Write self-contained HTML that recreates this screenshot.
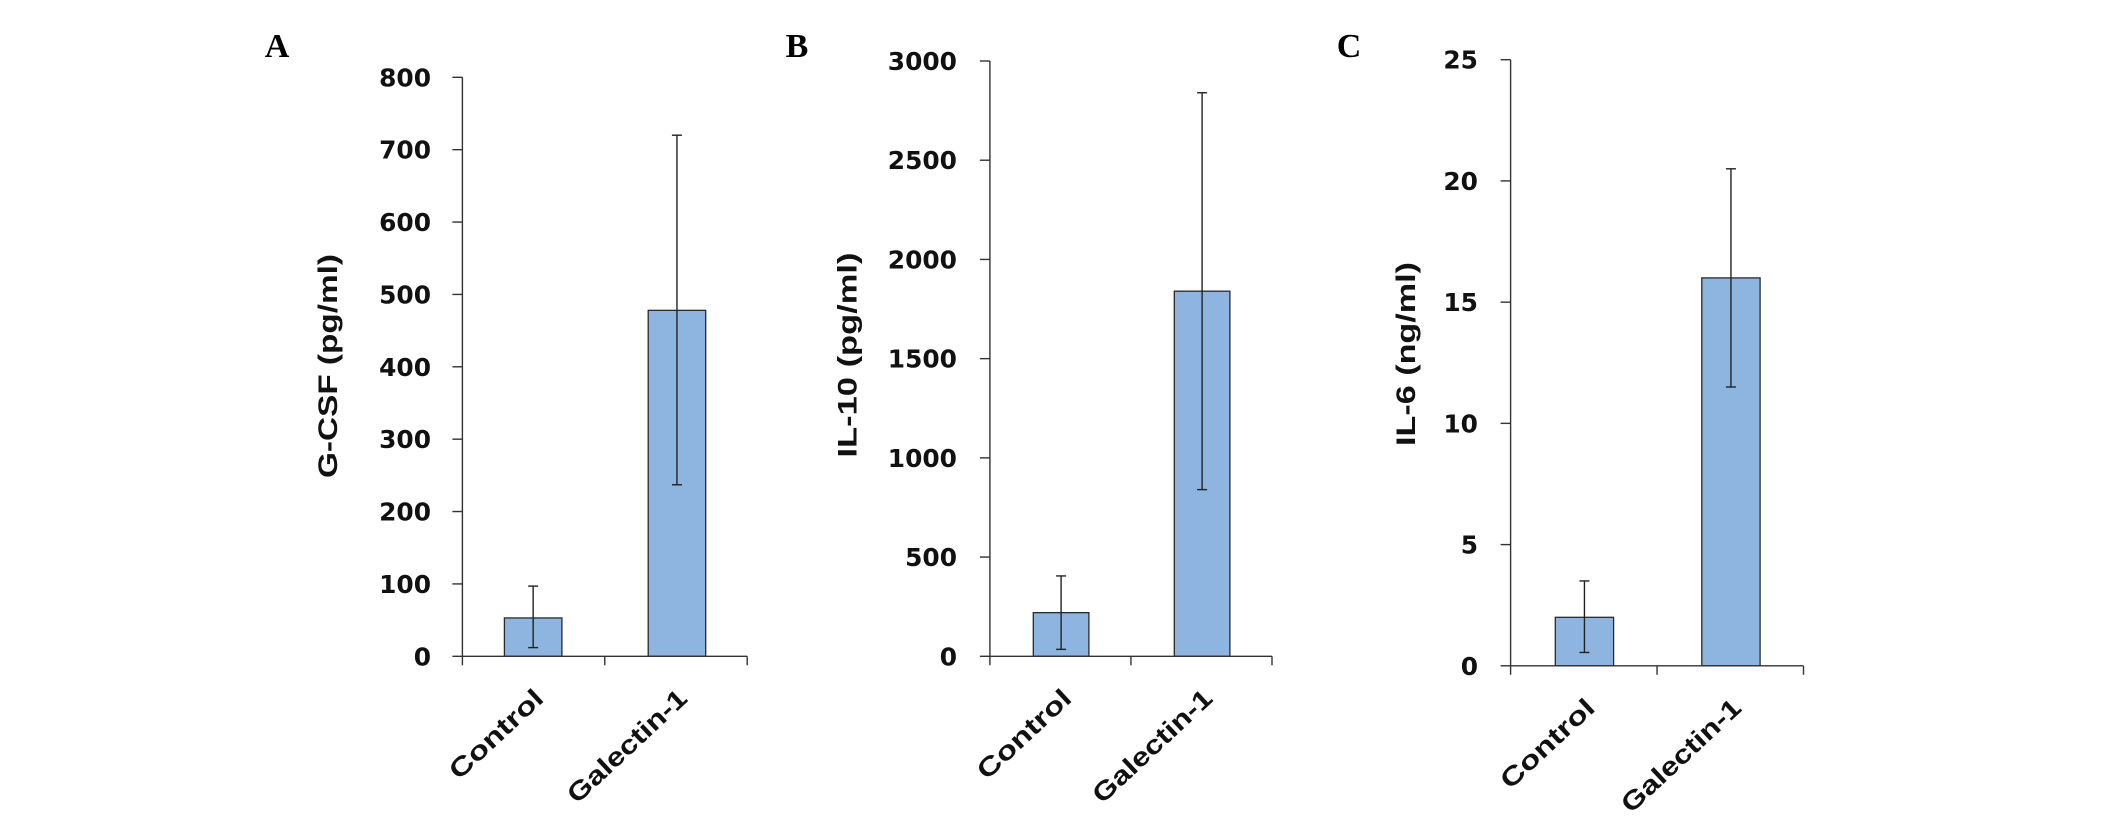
<!DOCTYPE html>
<html><head><meta charset="utf-8">
<style>html,body{margin:0;padding:0;background:#fff}svg{display:block}</style>
</head><body>
<svg id="chart" width="2126" height="823" viewBox="0 0 2126 823" xmlns="http://www.w3.org/2000/svg"></svg>
<script>
const categories = ["Control", "Galectin-1"];
const panelLetters = ["A", "B", "C"];
const yTitles = ["G-CSF (pg/ml)", "IL-10 (pg/ml)", "IL-6 (ng/ml)"];
const meansA = [53, 478];
const errLowA = [12, 237];
const errHighA = [97, 720];
const ticksA = [0, 100, 200, 300, 400, 500, 600, 700, 800];
const meansB = [220, 1840];
const errLowB = [35, 840];
const errHighB = [405, 2840];
const ticksB = [0, 500, 1000, 1500, 2000, 2500, 3000];
const meansC = [2.0, 16];
const errLowC = [0.55, 11.5];
const errHighC = [3.5, 20.5];
const ticksC = [0, 5, 10, 15, 20, 25];

const NS = "http://www.w3.org/2000/svg";
const svg = document.getElementById("chart");
function mk(tag, attrs, parent, text) {
  const e = document.createElementNS(NS, tag);
  for (const k in attrs) e.setAttribute(k, attrs[k]);
  if (text !== undefined) e.textContent = text;
  (parent || svg).appendChild(e);
  return e;
}
const layout = [
  {ax:462.4, top:77.3, zero:656.3, right:747.2, barW:57.5, barOff:[42, 185.8], labR:431, titleX:328, titleY:366, letX:277, titleLen:224},
  {ax:989.9, top:61, zero:656.3, right:1272, barW:55.6, barOff:[43.4, 184.4], labR:957, titleX:847.5, titleY:355, letX:797, titleLen:205},
  {ax:1510.6, top:59.7, zero:665.8, right:1803.5, barW:58.3, barOff:[44.7, 191.2], labR:1478, titleX:1406, titleY:354, letX:1349, titleLen:184}
];
const labelLen = [118, 153];
const datasets = [
  {m:meansA, lo:errLowA, hi:errHighA, t:ticksA},
  {m:meansB, lo:errLowB, hi:errHighB, t:ticksB},
  {m:meansC, lo:errLowC, hi:errHighC, t:ticksC}
];
datasets.forEach((d, p) => {
  const L = layout[p];
  const g = mk("g", {});
  
  
  const maxT = d.t[d.t.length - 1];
  const y = v => L.zero - (v / maxT) * (L.zero - L.top);
  const mid = (L.ax + L.right) / 2;
  const let_ = mk("text", {x:L.letX, y:57, "text-anchor":"middle", "font-family":"Liberation Serif, serif", "font-weight":"bold", "font-size":"34"}, g, panelLetters[p]);
  
  
  d.m.forEach((v, i) => {
    const x0 = L.ax + L.barOff[i];
    const b = mk("rect", {x:x0, y:y(v), width:L.barW, height:L.zero - y(v), fill:"#8eb4e0", stroke:"#2a2a2a", "stroke-width":"1.3"}, g);
    
    
    const cx = x0 + L.barW / 2;
    const eg = mk("g", {stroke:"#222", "stroke-width":"1.4"}, g);
    
    
    mk("line", {x1:cx, x2:cx, y1:y(d.lo[i]), y2:y(d.hi[i])}, eg);
    mk("line", {x1:cx-5, x2:cx+5, y1:y(d.lo[i]), y2:y(d.lo[i])}, eg);
    mk("line", {x1:cx-5, x2:cx+5, y1:y(d.hi[i]), y2:y(d.hi[i])}, eg);
    const lx = cx + 12, ly = L.zero + 44;
    const lab = mk("text", {x:lx, y:ly, "text-anchor":"end", transform:"rotate(-43 " + lx + " " + ly + ")", "font-family":"Liberation Sans, sans-serif", "font-weight":"bold", "font-size":"26", textLength:labelLen[i], lengthAdjust:"spacingAndGlyphs", fill:"#111"}, g, categories[i]);
    
    
  });
  const axg = mk("g", {stroke:"#333", "stroke-width":"1.4"}, g);
  
  
  mk("line", {x1:L.ax, x2:L.ax, y1:L.top, y2:L.zero + 9}, axg);
  mk("line", {x1:L.ax, x2:L.right, y1:L.zero, y2:L.zero}, axg);
  mk("line", {x1:mid, x2:mid, y1:L.zero, y2:L.zero + 9}, axg);
  mk("line", {x1:L.right, x2:L.right, y1:L.zero, y2:L.zero + 9}, axg);
  d.t.forEach(t => {
    mk("line", {x1:L.ax - 10, x2:L.ax, y1:y(t), y2:y(t)}, axg);
    const s = String(t);
    const tl = mk("text", {x:L.labR, y:y(t) + 9, "text-anchor":"end", "font-family":"DejaVu Sans, sans-serif", "font-weight":"bold", "font-size":"25", textLength:s.length * 17.3, lengthAdjust:"spacingAndGlyphs", fill:"#111"}, g, s);
    
    
  });
  const yt = mk("text", {x:L.titleX, y:L.titleY, "text-anchor":"middle", "dominant-baseline":"central", transform:"rotate(-90 " + L.titleX + " " + L.titleY + ")", "font-family":"Liberation Sans, sans-serif", "font-weight":"bold", "font-size":"27", textLength:L.titleLen, lengthAdjust:"spacingAndGlyphs", fill:"#111"}, g, yTitles[p]);
  
  
});
</script>
</body></html>
